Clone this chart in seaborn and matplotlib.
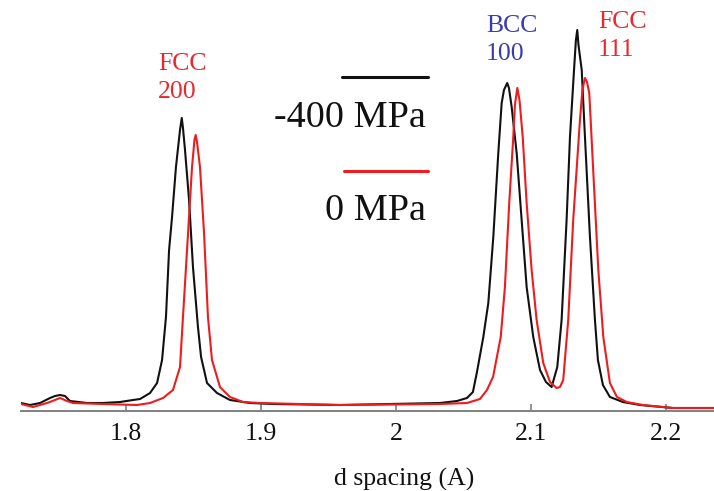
import numpy as np
import pandas as pd
import seaborn as sns
import matplotlib
matplotlib.use("Agg")
import matplotlib.pyplot as plt
from matplotlib.lines import Line2D

# Diffraction profiles: d spacing (A) and intensity (a.u.)
d_400 = [1.7222, 1.7289, 1.7363, 1.7437, 1.7474, 1.7511, 1.7548, 1.7585, 1.7711, 1.7830,
         1.7956, 1.8052, 1.8104, 1.8178, 1.8230, 1.8267, 1.8296, 1.8319, 1.8341, 1.8370,
         1.8400, 1.8413, 1.8422, 1.8437, 1.8467, 1.8496, 1.8533, 1.8556, 1.8600, 1.8674,
         1.8770, 1.8919, 1.9089, 1.9585, 1.9956, 2.0326, 2.0452, 2.0526, 2.0570, 2.0600,
         2.0647, 2.0684, 2.0721, 2.0758, 2.0783, 2.0800, 2.0824, 2.0837, 2.0857, 2.0894,
         2.0931, 2.0968, 2.1017, 2.1067, 2.1111, 2.1153, 2.1195, 2.1227, 2.1264, 2.1289,
         2.1319, 2.1333, 2.1343, 2.1352, 2.1376, 2.1400, 2.1437, 2.1474, 2.1496, 2.1533,
         2.1585, 2.1681, 2.1807, 2.2052, 2.2356]
i_400 = [8, 6, 8, 13, 15, 16, 15, 10, 8, 8,
         9, 11, 12, 18, 28, 51, 94, 161, 194, 244,
         281, 293, 283, 261, 211, 144, 84, 54, 28, 18,
         11, 8, 7, 6, 7, 8, 10, 13, 19, 39,
         74, 108, 174, 258, 308, 321, 328, 323, 304, 258,
         191, 124, 74, 41, 29, 24, 44, 91, 191, 274,
         341, 371, 381, 366, 341, 274, 174, 91, 51, 26,
         14, 9, 6, 3, 3]

d_0 = [1.7222, 1.7311, 1.7415, 1.7474, 1.7511, 1.7563, 1.7607, 1.7830, 1.8081, 1.8178,
       1.8274, 1.8348, 1.8400, 1.8422, 1.8452, 1.8489, 1.8507, 1.8516, 1.8526, 1.8548,
       1.8578, 1.8607, 1.8637, 1.8696, 1.8770, 1.8867, 1.8993, 1.9585, 2.0326, 2.0526,
       2.0622, 2.0674, 2.0719, 2.0776, 2.0807, 2.0839, 2.0869, 2.0881, 2.0899, 2.0915,
       2.0939, 2.0968, 2.1005, 2.1042, 2.1091, 2.1141, 2.1190, 2.1215, 2.1239, 2.1276,
       2.1313, 2.1363, 2.1381, 2.1400, 2.1415, 2.1432, 2.1461, 2.1499, 2.1536, 2.1585,
       2.1637, 2.1711, 2.1830, 2.2052, 2.2356]
i_0 = [7, 4, 8, 11, 13, 10, 8, 7, 6, 8,
       13, 21, 44, 94, 161, 244, 271, 276, 269, 244,
       178, 94, 51, 24, 14, 9, 8, 6, 7, 8,
       12, 21, 34, 74, 124, 208, 274, 306, 323, 311,
       274, 208, 141, 91, 48, 29, 23, 24, 31, 91,
       191, 291, 321, 333, 329, 318, 241, 141, 74, 28,
       14, 9, 6, 3, 3]

series_labels = ["-400 MPa", "0 MPa"]
series_colors = ["#111111", "#ee1c1c"]
x_ticks = [1.8, 1.9, 2.0, 2.1, 2.2]
x_tick_labels = ["1.8", "1.9", "2", "2.1", "2.2"]
peak_labels = ["FCC\n200", "BCC\n100", "FCC\n111"]
peak_label_d = [1.8237, 2.0667, 2.1496]
peak_label_i = [333, 371, 375]
peak_label_colors = ["#e8282e", "#3b3bb0", "#e8282e"]

df = pd.concat([
    pd.DataFrame({"d": d_400, "I": i_400, "load": series_labels[0]}),
    pd.DataFrame({"d": d_0, "I": i_0, "load": series_labels[1]}),
], ignore_index=True)

sns.set_theme(style="white")
plt.rcParams["font.family"] = ["Liberation Serif", "DejaVu Serif"]

W, H = 714, 491
fig = plt.figure(figsize=(W / 100, H / 100), dpi=100)
ax = fig.add_axes([21 / W, (H - 411) / H, (W - 21) / W, 411 / H])

sns.lineplot(data=df, x="d", y="I", hue="load", hue_order=series_labels,
             palette=series_colors, linewidth=1.5, legend=False, ax=ax,
             estimator=None, sort=False)

ax.set_xlim(1.7222, 2.2356)
ax.set_ylim(0, 411)
ax.set_yticks([])
ax.set_ylabel("")
for s in ["top", "right", "left"]:
    ax.spines[s].set_visible(False)
ax.spines["bottom"].set_color("#808080")
ax.spines["bottom"].set_linewidth(1.4)
ax.set_xticks(x_ticks)
ax.set_xticklabels(x_tick_labels)
ax.tick_params(axis="x", direction="in", length=5, width=1.2, color="#808080",
               labelsize=18.5, labelcolor="#111111", pad=9, bottom=True)
ax.set_xlabel("d spacing (A)", fontsize=18.5, color="#111111")
ax.xaxis.set_label_coords((404 - 21) / (W - 21), -57 / 411)

for txt, xd, yi, c in zip(peak_labels, peak_label_d, peak_label_i, peak_label_colors):
    ax.text(xd, yi, txt, color=c, fontsize=18.5, ha="left", va="center",
            linespacing=1.35, clip_on=False)

# Legend: a line segment above each right-aligned label
fig.add_artist(Line2D([342 / W, 428 / W], [1 - 77 / H, 1 - 77 / H],
                      color=series_colors[0], linewidth=2.2))
fig.add_artist(Line2D([344 / W, 428 / W], [1 - 171 / H, 1 - 171 / H],
                      color=series_colors[1], linewidth=2.2))
fig.text(426 / W, 1 - 117.5 / H, series_labels[0], fontsize=27.5, ha="right",
         va="center", color="#111111")
fig.text(426 / W, 1 - 211 / H, series_labels[1], fontsize=27.5, ha="right",
         va="center", color="#111111")

fig.savefig("out.png", dpi=100)
